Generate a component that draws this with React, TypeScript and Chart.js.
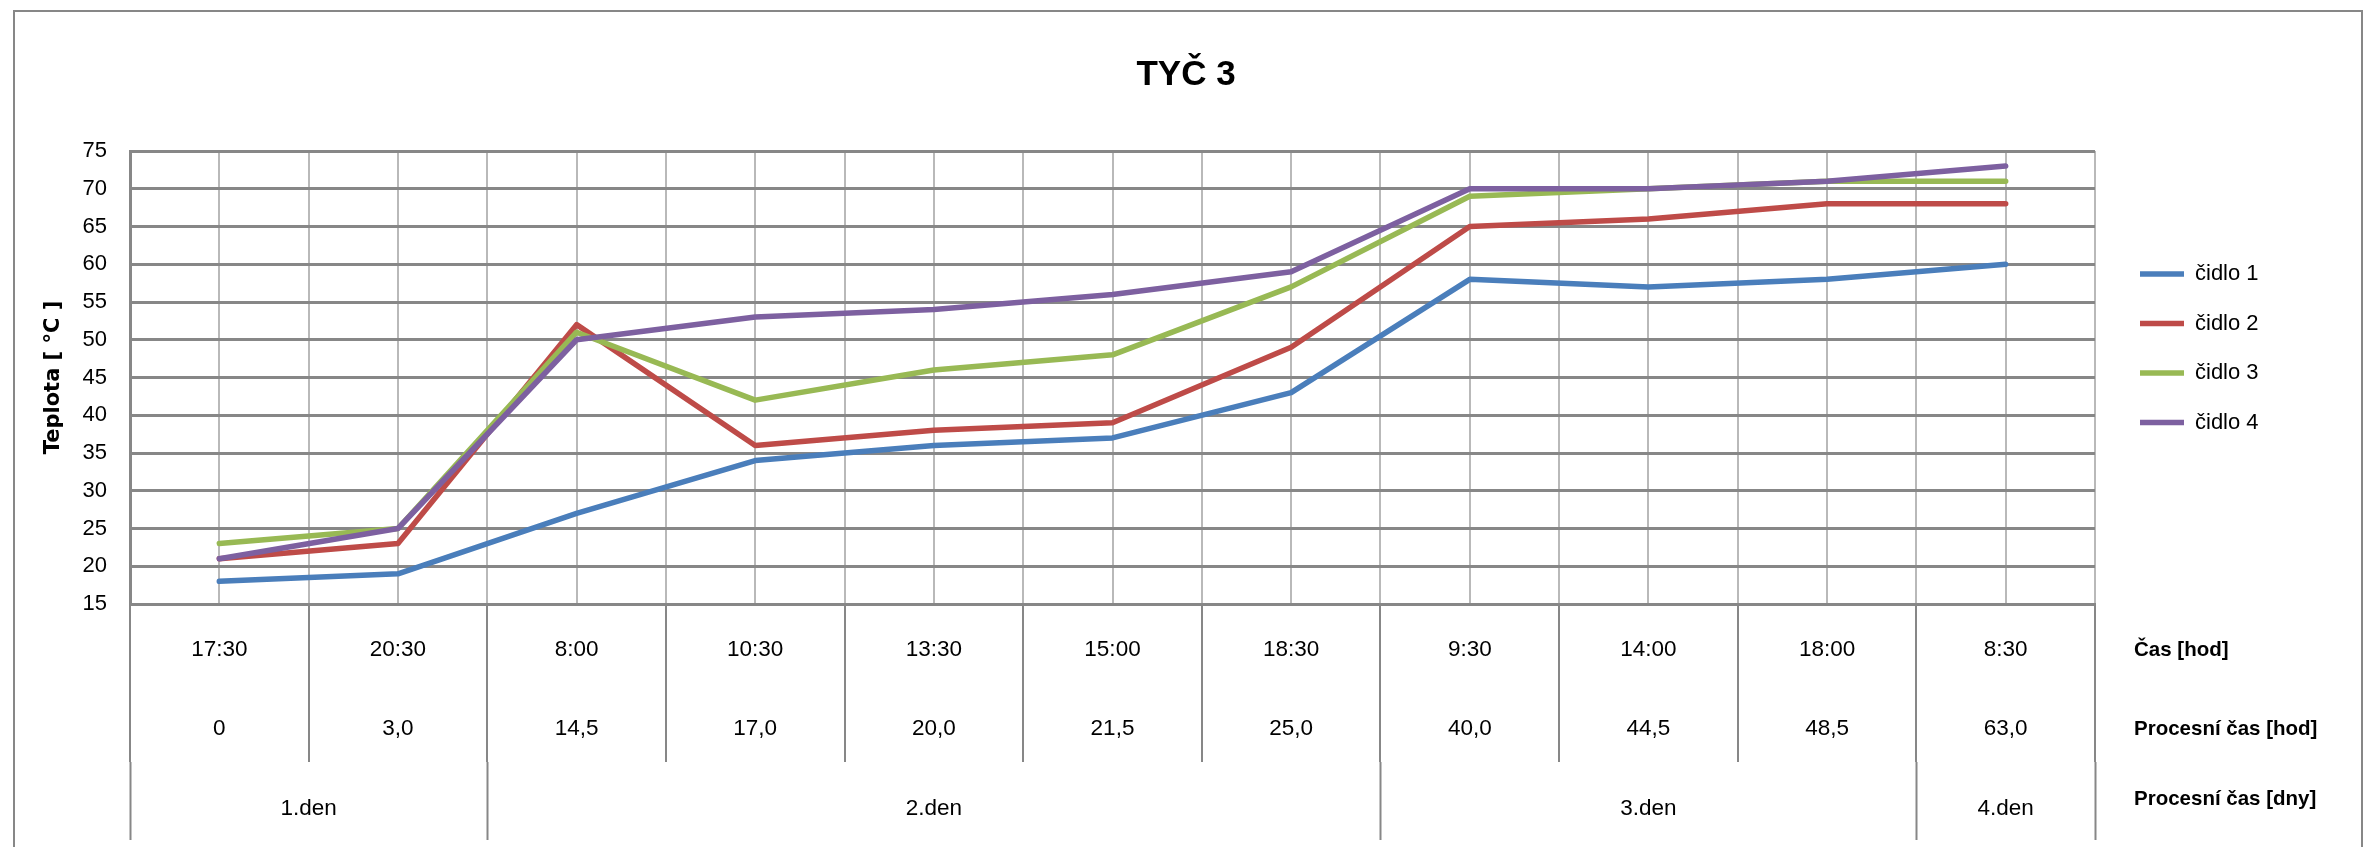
import React, { useEffect, useRef } from 'react';
import { Chart, registerables } from 'chart.js';

Chart.register(...registerables);

const W = 2368;
const H = 847;

// Category rows under the plot
const timeLabels = ['17:30', '20:30', '8:00', '10:30', '13:30', '15:00', '18:30', '9:30', '14:00', '18:00', '8:30'];
const processHours = ['0', '3,0', '14,5', '17,0', '20,0', '21,5', '25,0', '40,0', '44,5', '48,5', '63,0'];
const dayLabels = ['1.den', '2.den', '3.den', '4.den'];
const daySpans = [2, 5, 3, 1];
const rowTitles = ['Čas [hod]', 'Procesní čas [hod]', 'Procesní čas [dny]'];

// Temperatures [°C]
const sensor1 = [18, 19, 27, 34, 36, 37, 43, 58, 57, 58, 60];
const sensor2 = [21, 23, 52, 36, 38, 39, 49, 65, 66, 68, 68];
const sensor3 = [23, 25, 51, 42, 46, 48, 57, 69, 70, 71, 71];
const sensor4 = [21, 25, 50, 53, 54, 56, 59, 70, 70, 71, 73];
const seriesNames = ['čidlo 1', 'čidlo 2', 'čidlo 3', 'čidlo 4'];
const seriesColors = ['#4A7EBB', '#BE4B48', '#98B954', '#7D60A0'];

const yMin = 15;
const yMax = 75;
const yStep = 5;

const SANS = "'Liberation Sans', Arial, sans-serif";
const WIDE_BOLD = "'DejaVu Sans', Verdana, sans-serif";
const GRID_DARK = '#878787';
const GRID_LIGHT = '#b9b9b9';

// Day row: boundaries and centres on a continuous category-index axis
const dayBounds: number[] = [];
const dayCentres: number[] = [];
{
  let s = -0.5;
  dayBounds.push(s);
  daySpans.forEach((n) => {
    dayCentres.push(s + n / 2);
    s += n;
    dayBounds.push(s);
  });
}
const dayTickValues = [...dayBounds, ...dayCentres].sort((a, b) => a - b);
const isDayBound = (v: number) => dayBounds.some((b) => Math.abs(b - v) < 1e-6);

const chartDecor = {
  id: 'chartDecor',
  beforeDraw(chart: any) {
    const { ctx } = chart;
    ctx.save();
    ctx.fillStyle = '#ffffff';
    ctx.fillRect(0, 0, W, H);
    ctx.strokeStyle = GRID_DARK;
    ctx.lineWidth = 2;
    ctx.strokeRect(14, 11, W - 20, H + 40);
    ctx.restore();
  },
  afterLayout(chart: any) {
    // title centred over the whole frame
    const t = chart.titleBlock;
    if (t) {
      t.left = 10;
      t.right = 2362;
      t.width = t.right - t.left;
    }
    // legend column to the right of the plot
    const lg = chart.legend;
    if (lg) {
      const pad = lg.options.labels.padding;
      lg.left = 2140 - pad;
      lg.right = lg.left + 240;
      lg.top = 274 - pad - lg.options.labels.font.size / 2;
      lg.bottom = lg.top + 400;
      lg.width = lg.right - lg.left;
      lg.height = lg.bottom - lg.top;
    }
  },
  afterDraw(chart: any) {
    const { ctx } = chart;
    const xs = chart.scales.x;
    const xd = chart.scales.xDays;
    const ys = [xs.top + 46, xs.top + 125, xd.top + 37];
    ctx.save();
    ctx.fillStyle = '#000';
    ctx.font = `bold 20.5px ${SANS}`;
    ctx.textAlign = 'left';
    ctx.textBaseline = 'middle';
    rowTitles.forEach((txt, i) => ctx.fillText(txt, 2134, ys[i]));
    ctx.restore();
  },
};

export default function App() {
  const ref = useRef<HTMLCanvasElement>(null);

  useEffect(() => {
    const canvas = ref.current;
    if (!canvas) return;
    const series = [sensor1, sensor2, sensor3, sensor4];
    const chart = new Chart(canvas, {
      type: 'line',
      data: {
        labels: timeLabels.map((t, i) => [t, processHours[i]]),
        datasets: series.map((data, i) => ({
          label: seriesNames[i],
          data,
          borderColor: seriesColors[i],
          backgroundColor: seriesColors[i],
          borderWidth: 5.5,
          borderCapStyle: 'round' as const,
          borderJoinStyle: 'round' as const,
          pointRadius: 0,
          pointHoverRadius: 0,
          tension: 0,
          fill: false,
          order: series.length - i,
        })),
      },
      options: {
        responsive: false,
        animation: false,
        devicePixelRatio: 1,
        events: [],
        layout: { padding: { left: 0, right: 273, top: 0, bottom: 7 } },
        plugins: {
          title: {
            display: true,
            text: 'TYČ 3',
            color: '#000',
            font: { family: SANS, size: 35, weight: 'bold', lineHeight: 1.2 },
            padding: { top: 54, bottom: 55 },
          },
          legend: {
            display: true,
            position: 'chartArea' as any,
            align: 'start',
            labels: {
              color: '#000',
              font: { family: SANS, size: 22 },
              usePointStyle: true,
              pointStyle: 'line',
              pointStyleWidth: 44,
              padding: 27.5,
              sort: (a: any, b: any) => a.datasetIndex - b.datasetIndex,
            },
          },
          tooltip: { enabled: false },
        },
        scales: {
          x: {
            type: 'category',
            position: 'bottom',
            weight: 0,
            offset: true,
            grid: {
              display: true,
              offset: true,
              drawOnChartArea: true,
              color: GRID_LIGHT,
              lineWidth: 2,
              drawTicks: true,
              tickLength: 158,
              tickColor: GRID_DARK,
              tickWidth: 2,
              z: -2,
            },
            border: { display: true, color: GRID_DARK, width: 3 },
            ticks: {
              color: '#000',
              font: { family: SANS, size: 22.5, lineHeight: '79px' },
              padding: -151.5,
              autoSkip: false,
              maxRotation: 0,
              minRotation: 0,
            },
            afterFit: (s: any) => {
              s.height = 158;
            },
          },
          xDays: {
            type: 'linear',
            position: 'bottom',
            weight: 1,
            min: -0.5,
            max: 10.5,
            grid: {
              display: true,
              drawOnChartArea: false,
              drawTicks: true,
              tickLength: 78,
              tickWidth: 2,
              tickColor: (c: any) => (c.tick && isDayBound(c.tick.value) ? GRID_DARK : 'rgba(0,0,0,0)'),
              color: 'rgba(0,0,0,0)',
            },
            border: { display: false },
            afterBuildTicks: (s: any) => {
              s.ticks = dayTickValues.map((v) => ({ value: v }));
            },
            ticks: {
              color: '#000',
              font: { family: SANS, size: 22.5, lineHeight: '30px' },
              padding: -46,
              autoSkip: false,
              maxRotation: 0,
              minRotation: 0,
              callback: (v: any) => {
                const k = dayCentres.findIndex((c) => Math.abs(c - Number(v)) < 1e-6);
                return k >= 0 ? dayLabels[k] : '';
              },
            },
            afterFit: (s: any) => {
              s.height = 78;
            },
          },
          xMid: {
            type: 'category',
            position: 'top',
            offset: true,
            grid: {
              display: true,
              offset: false,
              drawOnChartArea: true,
              drawTicks: false,
              color: GRID_LIGHT,
              lineWidth: 2,
              z: -2,
            },
            border: { display: false },
            ticks: { display: false },
          },
          y: {
            type: 'linear',
            position: 'left',
            min: yMin,
            max: yMax,
            ticks: {
              stepSize: yStep,
              color: '#000',
              font: { family: SANS, size: 22 },
              padding: 23,
            },
            grid: { color: GRID_DARK, lineWidth: 3, drawTicks: false, z: -1 },
            border: { display: true, color: GRID_DARK, width: 3 },
            title: {
              display: true,
              text: 'Teplota [ °C ]',
              color: '#000',
              font: { family: WIDE_BOLD, size: 21, weight: 'bold', lineHeight: 1.2 },
              padding: { top: 40.9, bottom: 0 },
            },
            afterFit: (s: any) => {
              s.width = 130;
            },
          },
        },
      } as any,
      plugins: [chartDecor],
    });
    return () => chart.destroy();
  }, []);

  return (
    <div style={{ position: 'absolute', left: 0, top: 0, width: W, height: H, background: '#fff' }}>
      <canvas ref={ref} width={W} height={H} style={{ display: 'block', width: W, height: H }} />
    </div>
  );
}
